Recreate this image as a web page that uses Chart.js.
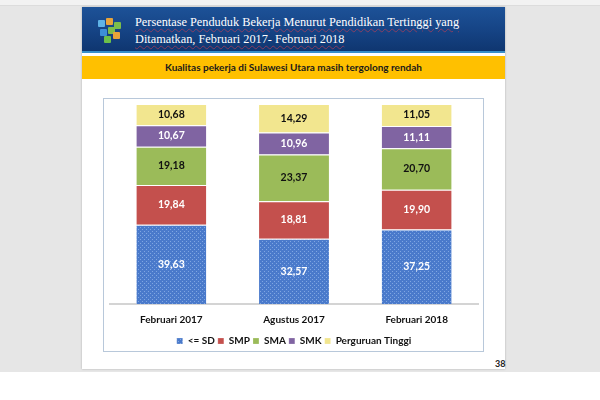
<!DOCTYPE html>
<html lang="id">
<head>
  <meta charset="UTF-8" />
  <title>Persentase Penduduk Bekerja</title>
  <script src="https://cdn.jsdelivr.net/npm/chart.js"></script>
  <style>
    * { box-sizing: border-box; margin: 0; padding: 0; }
    body {
      width: 600px;
      height: 400px;
      background: #fff;
      position: relative;
      overflow: hidden;
      font-family: 'Lato', sans-serif;
    }
    .workspace {
      position: absolute; left: 0; top: 0; width: 600px; height: 372px;
      background: #e6e6e6;
    }
    .toolbar {
      position: absolute; left: 0; top: 0; width: 600px; height: 6px;
      background: #f2f2f2; border-bottom: 1px solid #dcdcdc;
    }
    .slide {
      position: absolute; left: 82px; top: 7px; width: 423px; height: 362px;
      background: #fff;
      box-shadow: 0 0 2px rgba(0,0,0,0.25);
    }
    .header {
      position: absolute; left: 0; top: 0; width: 423px; height: 46px;
      background: linear-gradient(180deg, #1d5298 0%, #154384 55%, #0f3670 100%);
      border-bottom: 2px solid #3a8fc8;
    }
    .title {
      position: absolute; left: 53px; top: 7px;
      color: #fff;
      font-family: 'Liberation Serif', serif;
      font-size: 12.3px;
      line-height: 17px;
      white-space: nowrap;
      text-decoration: underline wavy rgba(200,60,80,0.6);
      text-decoration-thickness: 1px;
      text-underline-offset: 2px;
    }
    .logo { position: absolute; left: 14px; top: 9px; width: 28px; height: 30px; }
    .logo div { position: absolute; width: 7px; height: 7px; border-radius: 1px; }
    .band {
      position: absolute; left: 0; top: 49px; width: 423px; height: 23px;
      background: #ffc000;
      text-align: center;
      font-weight: bold;
      font-size: 10px;
      line-height: 23px;
      color: #1a1a1a;
    }
    .frame {
      position: absolute; left: 21px; top: 91px; width: 381px; height: 254px;
      border: 1px solid #b8c8da;
    }
    .pagenum {
      position: absolute; left: 413px; top: 351px;
      font-size: 9px; font-weight: bold; color: #222;
    }
  </style>
</head>
<body>
  <div class="workspace"></div>
  <div class="toolbar"></div>
  <div class="slide">
    <div class="header">
      <div class="logo">
        <div style="left:2px;top:4px;background:#5fb3e6;"></div>
        <div style="left:10px;top:2px;background:#e8a33a;"></div>
        <div style="left:18px;top:6px;background:#7dbd4a;"></div>
        <div style="left:4px;top:13px;background:#3d8fd6;"></div>
        <div style="left:12px;top:11px;background:#7dbd4a;"></div>
        <div style="left:8px;top:20px;background:#6cc04a;"></div>
        <div style="left:17px;top:16px;background:#e8a33a;"></div>
      </div>
      <div class="title">Persentase Penduduk Bekerja Menurut Pendidikan Tertinggi yang<br>Ditamatkan, Februari 2017- Februari 2018</div>
    </div>
    <div class="band">Kualitas pekerja di Sulawesi Utara masih tergolong rendah</div>
    <div class="frame">
      <canvas id="chart" width="379" height="252"></canvas>
    </div>
    <div class="pagenum">38</div>
  </div>

  <script>
    // chart data
    const periods = ['Februari 2017', 'Agustus 2017', 'Februari 2018'];
    const seriesNames = ['<= SD', 'SMP', 'SMA', 'SMK', 'Perguruan Tinggi'];
    const sd = [39.63, 32.57, 37.25];
    const smp = [19.84, 18.81, 19.90];
    const sma = [19.18, 23.37, 20.70];
    const smk = [10.67, 10.96, 11.11];
    const pt = [10.68, 14.29, 11.05];

    const seriesValues = [sd, smp, sma, smk, pt];
    const fills = ['pattern', '#c4504d', '#9bbb59', '#8064a2', '#f2e68f'];
    const labelColors = ['#fff', '#fff', '#111', '#fff', '#111'];

    // dotted blue fill like the office chart
    function dottedBlue() {
      const c = document.createElement('canvas');
      c.width = 4; c.height = 4;
      const g = c.getContext('2d');
      g.fillStyle = '#4a7acb';
      g.fillRect(0, 0, 4, 4);
      g.fillStyle = '#7fa6e2';
      g.fillRect(0, 0, 1, 1);
      g.fillRect(2, 2, 1, 1);
      return g.createPattern(c, 'repeat');
    }

    const valueLabels = {
      id: 'valueLabels',
      afterDatasetsDraw(chart) {
        const ctx = chart.ctx;
        ctx.save();
        ctx.font = 'bold 10.5px Lato';
        ctx.textAlign = 'center';
        ctx.textBaseline = 'middle';
        chart.data.datasets.forEach((ds, i) => {
          const meta = chart.getDatasetMeta(i);
          meta.data.forEach((bar, j) => {
            ctx.fillStyle = labelColors[i];
            const txt = ds.data[j].toFixed(2).replace('.', ',');
            ctx.fillText(txt, bar.x, (bar.y + bar.base) / 2);
          });
        });
        ctx.restore();
      }
    };

    // push the legend a little lower, into the empty space below it
    const legendShift = {
      id: 'legendShift',
      afterLayout(chart) {
        if (chart.legend) {
          chart.legend.top += 5;
          chart.legend.bottom += 5;
        }
      }
    };

    const ctx = document.getElementById('chart').getContext('2d');
    const blue = dottedBlue();

    new Chart(ctx, {
      type: 'bar',
      data: {
        labels: periods,
        datasets: seriesNames.map((name, i) => ({
          label: name,
          data: seriesValues[i],
          backgroundColor: fills[i] === 'pattern' ? blue : fills[i],
          borderColor: 'rgba(255,255,255,0.85)',
          borderWidth: { top: 1, left: 0, right: 0, bottom: 0 },
          borderSkipped: false,
          categoryPercentage: 1,
          barPercentage: 0.57
        }))
      },
      options: {
        responsive: false,
        animation: false,
        layout: { padding: { left: 6, right: 5, top: 5, bottom: 0 } },
        plugins: {
          tooltip: { enabled: false },
          legend: {
            position: 'bottom',
            labels: {
              boxWidth: 6,
              boxHeight: 6,
              padding: 3,
              color: '#111',
              font: { family: 'Lato', size: 10, weight: 'bold' }
            }
          }
        },
        scales: {
          x: {
            stacked: true,
            grid: { display: false },
            border: { color: '#d4d4d4', width: 2 },
            ticks: {
              color: '#111',
              padding: 2,
              font: { family: 'Lato', size: 10, weight: 'bold' }
            }
          },
          y: {
            stacked: true,
            min: 0,
            max: 100,
            display: false
          }
        }
      },
      plugins: [valueLabels, legendShift]
    });
  </script>
</body>
</html>
